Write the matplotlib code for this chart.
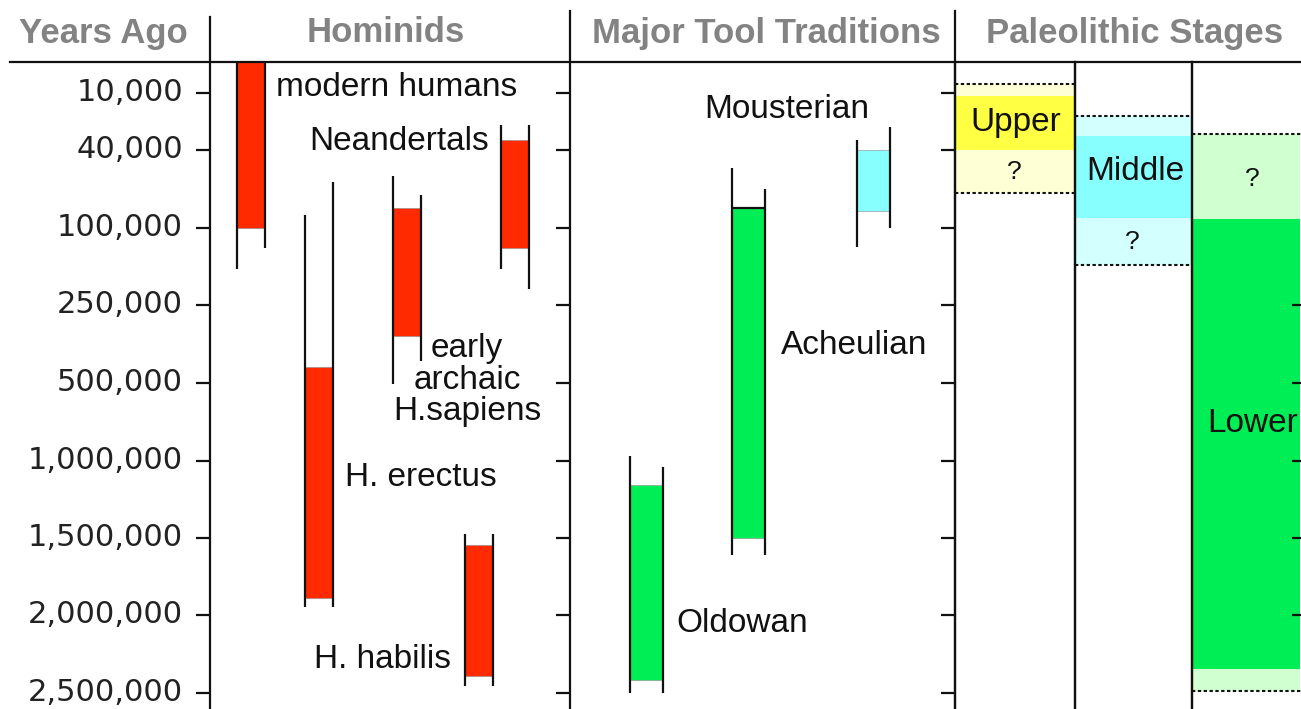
import matplotlib.pyplot as plt
import numpy as np
from matplotlib import transforms
from matplotlib.lines import Line2D

# uneven time axis of the original chart (tick years and their spacing steps)
tick_years = [10000, 40000, 100000, 250000, 500000, 1000000, 1500000, 2000000, 2500000]
scale_years = [0] + tick_years + [2600000]
scale_steps = [0, 0.40, 1.135, 2.14, 3.135, 4.14, 5.145, 6.14, 7.135, 8.14, 8.35]

# hominids: firm range (red) and the extent of the two side lines
hominids = ['modern humans', 'Neandertals', 'early\narchaic\nH.sapiens', 'H. erectus', 'H. habilis']
hominid_firm = [(0, 100000), (35000, 140000), (85000, 350000), (450000, 1890000), (1545000, 2390000)]
hominid_left = [(0, 180000), (27000, 180000), (60000, 510000), (90000, 1950000), (1475000, 2455000)]
hominid_right = [(0, 140000), (27000, 220000), (75000, 430000), (65000, 1950000), (1475000, 2455000)]

# tool traditions
tools = ['Oldowan', 'Acheulian', 'Mousterian']
tool_firm = [(1160000, 2420000), (85000, 1500000), (40000, 87000)]
tool_left = [(970000, 2500000), (54000, 1610000), (35000, 138000)]
tool_right = [(1040000, 2500000), (70000, 1610000), (28000, 100000)]
tool_colors = ['#00ee55', '#00ee55', '#88ffff']

# paleolithic stages: firm span and uncertain (dashed) span
stages = ['Upper', 'Middle', 'Lower']
stage_firm = [(11400, 40000), (32500, 92500), (93000, 2350000)]
stage_maybe = [(7000, 73000), (22000, 173000), (31600, 2490000)]
stage_colors = ['#ffff44', '#88ffff', '#00ee55']
stage_light = ['#ffffd6', '#d4ffff', '#d0ffd0']

headers = ['Years Ago', 'Hominids', 'Major Tool Traditions', 'Paleolithic Stages']


def forward(y):
    return np.interp(y, scale_years, scale_steps)


def inverse(s):
    return np.interp(s, scale_steps, scale_years)


W, H = 1301, 709
fig = plt.figure(figsize=(W / 100, H / 100), dpi=100)
ax = fig.add_axes([0, 0, 1, 1 - 62 / H])
ax.set_xlim(0, W)
ax.set_yscale('function', functions=(forward, inverse))
ax.set_ylim(2600000, 0)
ax.axis('off')


def fy(py):
    return 1 - py / H


pix = transforms.blended_transform_factory(ax.transData, fig.transFigure)
LW = 1.6
TXT = dict(family='Liberation Sans', fontsize=24, color='#111111')

# header
for x, label in zip([103, 386, 766, 1135], headers):
    ax.text(x, fy(33), label, transform=pix, ha='center', va='center',
            family='Liberation Sans', fontweight='bold', fontsize=25, color='#838383')
fig.add_artist(Line2D([10 / W, 1], [fy(62), fy(62)], color='#111111', lw=LW))
for x, ytop in [(210, 17), (570, 11), (955, 11), (1075, 62), (1192, 62)]:
    ax.plot([x, x], [fy(ytop), 0], transform=pix, color='#111111', lw=LW, clip_on=False)

# ticks and tick labels
for x in [210, 570, 955]:
    ax.hlines(tick_years, x - 14, x, color='#111111', lw=LW)
ax.hlines(tick_years[3:8], 1292, W, color='#111111', lw=LW)
for v in tick_years:
    ax.text(183, v, f'{v:,}', ha='right', va='center', family='DejaVu Sans',
            fontsize=22, color='#222222')


def draw_range(x0, w, firm, left, right, color):
    ax.bar(x0 + w / 2, firm[1] - firm[0], bottom=firm[0], width=w,
           color=color, edgecolor='#888888', linewidth=0.4)
    ax.vlines(x0, left[0], left[1], color='#111111', lw=LW)
    ax.vlines(x0 + w, right[0], right[1], color='#111111', lw=LW)


# hominids
hom_x = [236.5, 501, 393, 305, 465]
for x0, f, l, r in zip(hom_x, hominid_firm, hominid_left, hominid_right):
    draw_range(x0, 28, f, l, r, '#ff2a00')
ax.text(276, fy(87), hominids[0], transform=pix, ha='left', va='center', **TXT)
ax.text(489, fy(142), hominids[1], transform=pix, ha='right', va='center', **TXT)
ax.text(467, fy(380), hominids[2], transform=pix, ha='center', va='center',
        linespacing=1.02, **TXT)
ax.text(345, fy(477), hominids[3], transform=pix, ha='left', va='center', **TXT)
ax.text(451, fy(660), hominids[4], transform=pix, ha='right', va='center', **TXT)

# tool traditions
tool_x = [630, 732, 857]
for x0, f, l, r, c in zip(tool_x, tool_firm, tool_left, tool_right, tool_colors):
    draw_range(x0, 33, f, l, r, c)
ax.hlines(tool_firm[1][0], tool_x[1], tool_x[1] + 33, color='#111111', lw=LW)
ax.text(676, fy(624), tools[0], transform=pix, ha='left', va='center', **TXT)
ax.text(781, fy(346), tools[1], transform=pix, ha='left', va='center', **TXT)
ax.text(787, fy(109), tools[2], transform=pix, ha='center', va='center', **TXT)

# paleolithic stages
cols = [(955, 1075), (1075, 1192), (1192, W)]
for (x0, x1), f, m, c, lc in zip(cols, stage_firm, stage_maybe, stage_colors, stage_light):
    ax.bar((x0 + x1) / 2, m[1] - m[0], bottom=m[0], width=x1 - x0 - 2, color=lc, edgecolor='none')
    ax.bar((x0 + x1) / 2, f[1] - f[0], bottom=f[0], width=x1 - x0 - 2, color=c, edgecolor='none')
    ax.hlines(m, x0, x1, color='#111111', lw=1.5, linestyles=(0, (1.6, 1.2)))
ax.text(1016, fy(122), stages[0], transform=pix, ha='center', va='center', **TXT)
ax.text(1135, fy(171), stages[1], transform=pix, ha='center', va='center', **TXT)
ax.text(1207, fy(423), stages[2], transform=pix, ha='left', va='center', **TXT)
for x, py in [(1014, 172), (1132, 242), (1252, 179)]:
    ax.text(x, fy(py), '?', transform=pix, ha='center', va='center',
            family='Liberation Sans', fontsize=19, color='#111111')

# redraw the column lines above the fills
for x in [955, 1075, 1192]:
    ax.plot([x, x], [fy(62), 0], transform=pix, color='#111111', lw=LW, clip_on=False)

fig.savefig('out.png', dpi=100)
